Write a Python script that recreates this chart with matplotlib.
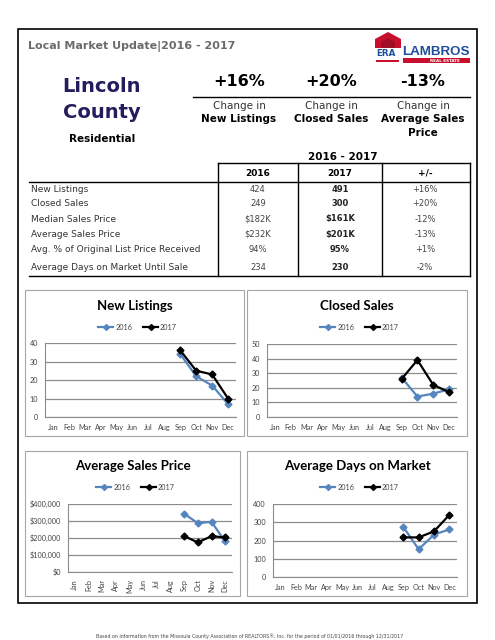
import matplotlib
matplotlib.use("Agg")
import matplotlib.pyplot as plt
from matplotlib.patches import Rectangle, Polygon

# ---- data ----
months = ["Jan", "Feb", "Mar", "Apr", "May", "Jun", "Jul", "Aug", "Sep", "Oct", "Nov", "Dec"]
nan = float("nan")
new_listings_2016 = [nan] * 8 + [34, 22, 17, 7]
new_listings_2017 = [nan] * 8 + [36, 25, 23, 10]
closed_sales_2016 = [nan] * 8 + [27, 14, 16, 19]
closed_sales_2017 = [nan] * 8 + [26, 39, 22, 17]
avg_price_2016 = [nan] * 8 + [343000, 287000, 295000, 180000]
avg_price_2017 = [nan] * 8 + [211000, 174000, 211000, 203000]
days_market_2016 = [nan] * 8 + [274, 152, 232, 261]
days_market_2017 = [nan] * 8 + [217, 217, 250, 340]

headline_pct = ["+16%", "+20%", "-13%"]
headline_top = ["Change in", "Change in", "Change in"]
headline_bold = ["New Listings", "Closed Sales", "Average Sales\nPrice"]

row_labels = ["New Listings", "Closed Sales", "Median Sales Price", "Average Sales Price",
              "Avg. % of Original List Price Received", "Average Days on Market Until Sale"]
vals_2016 = ["424", "249", "$182K", "$232K", "94%", "234"]
vals_2017 = ["491", "300", "$161K", "$201K", "95%", "230"]
vals_change = ["+16%", "+20%", "-12%", "-13%", "+1%", "-2%"]

W, H = 495, 640
BLUE = "#5585bd"
NAVY = "#231d5e"
TXT = "#333333"

fig = plt.figure(figsize=(W / 100, H / 100), dpi=100)
bg = fig.add_axes([0, 0, 1, 1])
bg.set_xlim(0, W)
bg.set_ylim(H, 0)
bg.axis("off")

# page border
bg.add_patch(Rectangle((18, 29), 459, 574, fill=False, ec="black", lw=1.2))

# header
bg.text(28, 46, "Local Market Update|2016 - 2017", fontsize=8, fontweight="bold",
        color="#6b6b6b", va="center", ha="left")

# logo
bg.add_patch(Polygon([(375, 48), (375, 39), (388, 32), (401, 39), (401, 48)],
                     closed=True, fc="#c8102e", ec="none"))
bg.add_patch(Polygon([(381, 48), (381, 42), (388, 38), (395, 42), (395, 48)],
                     closed=True, fc="#a00d25", ec="none"))
bg.text(376, 53, "ERA", fontsize=6.3, fontweight="bold", color="#1f4e9c", ha="left", va="center")
bg.add_patch(Rectangle((376, 60), 23, 1.5, fc="#c8102e", ec="none"))
bg.text(402, 52, "LAMBROS", fontsize=9.6, fontweight="bold", color="#1f4e9c",
        ha="left", va="center", family="Liberation Sans")
bg.add_patch(Rectangle((403, 58), 67, 5, fc="#c8102e", ec="none"))
bg.text(445, 60.5, "REAL ESTATE", fontsize=3, fontweight="bold", color="white",
        ha="center", va="center")

# county block
bg.text(102, 86, "Lincoln", fontsize=14, fontweight="bold", color=NAVY, ha="center", va="center")
bg.text(102, 113, "County", fontsize=14, fontweight="bold", color=NAVY, ha="center", va="center")
bg.text(102, 139, "Residential", fontsize=7.5, fontweight="bold", color="black",
        ha="center", va="center")

# headline changes
for i, cx in enumerate([239, 331, 423]):
    bg.text(cx, 81, headline_pct[i], fontsize=11.5, fontweight="bold", color="black",
            ha="center", va="center")
    bg.text(cx, 106, headline_top[i], fontsize=7.5, color=TXT, ha="center", va="center")
    bg.text(cx, 114.5, headline_bold[i], fontsize=7.5, fontweight="bold", color="black",
            ha="center", va="top", linespacing=1.5)
bg.plot([193, 470], [97, 97], color="black", lw=1)

# table
bg.text(343, 157, "2016 - 2017", fontsize=7.5, fontweight="bold", color="black",
        ha="center", va="center")
bg.plot([218, 470], [163, 163], color="black", lw=1)
for xv in [218, 298, 382, 470]:
    bg.plot([xv, xv], [163, 276], color="black", lw=1)
bg.plot([29, 470], [182, 182], color="black", lw=1)
bg.plot([29, 470], [276, 276], color="black", lw=1)
for cx, lab in zip([258, 340, 425], ["2016", "2017", "+/-"]):
    bg.text(cx, 173, lab, fontsize=6.5, fontweight="bold", color="black", ha="center", va="center")
row_y = [189, 204, 219, 234.5, 250, 267]
for i, ry in enumerate(row_y):
    bg.text(31, ry, row_labels[i], fontsize=6.5, color=TXT, ha="left", va="center")
    bg.text(258, ry, vals_2016[i], fontsize=6, color="#444444", ha="center", va="center")
    bg.text(340, ry, vals_2017[i], fontsize=6, fontweight="bold", color="#222222",
            ha="center", va="center")
    bg.text(425, ry, vals_change[i], fontsize=6, color="#444444", ha="center", va="center")

# chart panels
for (x0, y0, x1, y1) in [(25, 290, 244, 436), (247, 290, 467, 436),
                         (25, 451, 240, 596), (247, 451, 467, 596)]:
    bg.add_patch(Rectangle((x0, y0), x1 - x0, y1 - y0, fill=False, ec="#a6a6a6", lw=0.8))

# footer
bg.text(250, 636, "Based on information from the Missoula County Association of REALTORS\u00ae, Inc. "
        "for the period of 01/01/2016 through 12/31/2017",
        fontsize=3.4, color="#444444", ha="center", va="center")


def chart(px, title, cx, ty, s16, s17, ymax, step, fmt, rotate=False):
    x0, y0, x1, y1 = px
    ax = fig.add_axes([x0 / W, 1 - y1 / H, (x1 - x0) / W, (y1 - y0) / H])
    xs = list(range(len(months)))
    ax.plot(xs, s16, color=BLUE, lw=1.6, marker="D", ms=3.5, mfc=BLUE, mec=BLUE)
    ax.plot(xs, s17, color="black", lw=1.6, marker="D", ms=3.5, mfc="black", mec="black")
    ax.set_xlim(-0.5, 11.5)
    ax.set_ylim(0, ymax)
    ticks = list(range(0, ymax + 1, step))
    ax.set_yticks(ticks)
    ax.set_yticklabels([fmt(t) for t in ticks], fontsize=5.2, color="#444444", family="Lato")
    ax.set_xticks(xs)
    ax.set_xticklabels(months, fontsize=5.2, color="#444444", family="Lato",
                       rotation=90 if rotate else 0)
    ax.tick_params(length=0, pad=5)
    ax.grid(axis="y", color="#8c8c8c", lw=0.9)
    ax.set_axisbelow(True)
    for s in ["top", "right"]:
        ax.spines[s].set_visible(False)
    ax.spines["left"].set_color("#8c8c8c")
    ax.spines["bottom"].set_color("#8c8c8c")
    ax.patch.set_alpha(0)
    # title and legend above plot
    bg.text(cx, ty, title, fontsize=9.5, fontweight="bold", family="Lato", color="black",
            ha="center", va="center")
    ly = ty + 21
    lx = cx - 37
    bg.plot([lx, lx + 15], [ly, ly], color=BLUE, lw=1.6)
    bg.plot([lx + 7.5], [ly], marker="D", ms=3, color=BLUE)
    bg.text(lx + 18, ly, "2016", fontsize=5.2, family="Lato", color="#444444", va="center")
    bg.plot([lx + 45, lx + 60], [ly, ly], color="black", lw=1.6)
    bg.plot([lx + 52.5], [ly], marker="D", ms=3, color="black")
    bg.text(lx + 62, ly, "2017", fontsize=5.2, family="Lato", color="#444444", va="center")
    return ax


chart((45, 343, 236, 417), "New Listings", 135, 306, new_listings_2016, new_listings_2017,
      40, 10, lambda t: f"{t}")
chart((267, 344, 457, 417), "Closed Sales", 357, 306, closed_sales_2016, closed_sales_2017,
      50, 10, lambda t: f"{t}")
chart((68, 504, 232, 572), "Average Sales Price", 133, 466, avg_price_2016, avg_price_2017,
      400000, 100000, lambda t: f"${t:,.0f}", rotate=True)
chart((273, 504, 457, 577), "Average Days on Market", 357, 466, days_market_2016,
      days_market_2017, 400, 100, lambda t: f"{t}")

fig.savefig("out.png", dpi=100)
